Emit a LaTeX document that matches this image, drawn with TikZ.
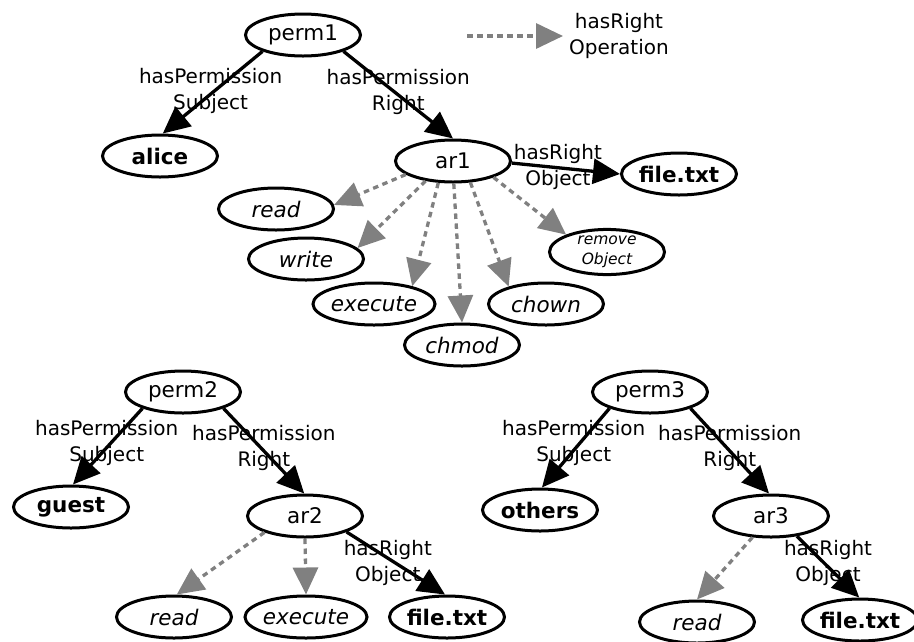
\documentclass[tikz,border=0pt]{standalone}
\usepackage{fontspec}
\setmainfont{DejaVu Sans}
\usetikzlibrary{arrows.meta,shapes.geometric}

\begin{document}
\begin{tikzpicture}[x=1pt,y=-1pt,
  concept/.style={ellipse, draw, line width=3pt, minimum width=115pt,
    minimum height=42pt, inner sep=0pt, font=\fontsize{21.5}{26}\selectfont},
  entity/.style={concept, font=\fontsize{21.5}{26}\selectfont\bfseries},
  operation/.style={concept, font=\fontsize{21.5}{26}\selectfont\itshape},
  relation/.style={line width=3.3pt, -{Triangle[length=27pt,width=25pt]}},
  oprel/.style={line width=3.3pt, draw=gray, dash pattern=on 5.5pt off 4.5pt,
    -{Triangle[length=27pt,width=25pt,fill=gray]}},
  elabel/.style={font=\fontsize{20}{26}\selectfont, align=center, inner sep=0pt}
]
\useasboundingbox (0,0) rectangle (914,641);

% ---- first permission ----
\node[concept]  (perm1)  at (303,35)  {perm1};
\node[entity]   (alice)  at (160,156) {alice};
\node[concept]  (ar1)    at (453,161) {ar1};
\node[entity]   (file1)  at (679,174) {file.txt};
\node[operation] (read1)  at (276,209) {read};
\node[operation] (write1) at (306,259) {write};
\node[operation] (exec1)  at (374,304) {execute};
\node[operation] (chmod1) at (462,345) {chmod};
\node[operation] (chown1) at (546,304) {chown};
\node[operation, font=\fontsize{15.5}{20}\selectfont\itshape, align=center]
  (remove1) at (607,252) {remove\\Object};

\draw[relation] (perm1.202) -- node[elabel, xshift=-2pt, yshift=1pt] {hasPermission\\Subject} (alice.83);
\draw[relation] (perm1.338) -- node[elabel, yshift=3pt] {hasPermission\\Right} (ar1.90);
\draw[relation] (ar1.358) -- node[elabel, xshift=-8pt, yshift=2pt] {hasRight\\Object} (file1.180);
\draw[oprel] (ar1.196) -- (read1.4);
\draw[oprel] (ar1.216) -- (write1.12);
\draw[oprel] (ar1.236) -- (exec1.25);
\draw[oprel] (ar1.272) -- (chmod1.90);
\draw[oprel] (ar1.309) -- (chown1.155);
\draw[oprel] (ar1.338) -- (remove1.157);

% ---- legend ----
\coordinate (legA) at (467,36);
\coordinate (legB) at (563,36);
\draw[oprel] (legA) -- (legB);
\node[elabel] (legtext) at (619,36) {hasRight\\Operation};

% ---- second permission ----
\node[concept]   (perm2) at (183,392) {perm2};
\node[entity]    (guest) at (71,507)  {guest};
\node[concept]   (ar2)   at (305,516) {ar2};
\node[operation] (read2) at (174,617) {read};
\node[operation] (exec2) at (306,617) {execute};
\node[entity]    (file2) at (447,617) {file.txt};

\draw[relation] (perm2.202) -- node[elabel, xshift=-1pt, yshift=3pt] {hasPermission\\Subject} (guest.85);
\draw[relation] (perm2.338) -- node[elabel, yshift=3pt] {hasPermission\\Right} (ar2.92);
\draw[relation] (ar2.339) -- node[elabel, xshift=-8pt, yshift=0pt] {hasRight\\Object} (file2.95);
\draw[oprel] (ar2.202) -- (read2.83);
\draw[oprel] (ar2.270) -- (exec2.90);

% ---- third permission ----
\node[concept]   (perm3)  at (650,392) {perm3};
\node[entity]    (others) at (540,510) {others};
\node[concept]   (ar3)    at (771,516) {ar3};
\node[operation] (read3)  at (697,622) {read};
\node[entity]    (file3)  at (860,620) {file.txt};

\draw[relation] (perm3.202) -- node[elabel, xshift=-2pt, yshift=5pt] {hasPermission\\Subject} (others.85);
\draw[relation] (perm3.338) -- node[elabel, yshift=3pt] {hasPermission\\Right} (ar3.95);
\draw[relation] (ar3.322) -- node[elabel, yshift=4pt] {hasRight\\Object} (file3.92);
\draw[oprel] (ar3.229) -- (read3.90);
\end{tikzpicture}
\end{document}
